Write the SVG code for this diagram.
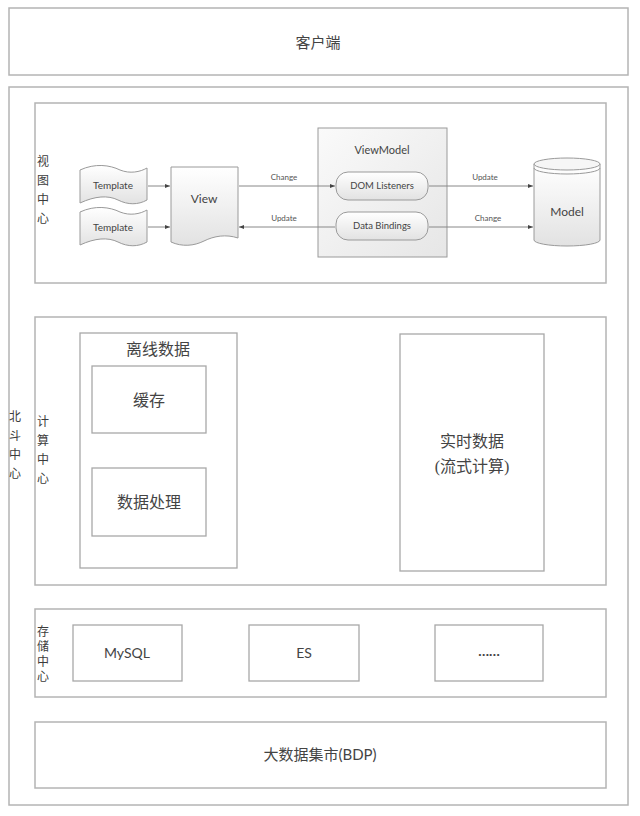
<svg xmlns="http://www.w3.org/2000/svg" width="640" height="816" viewBox="0 0 640 816">
<style>
.box{fill:#fff;stroke:#b4b4b4;stroke-width:1.5}
.ibox{fill:#fff;stroke:#a8a8a8;stroke-width:1.3}
.cn{font-family:"Liberation Serif","Noto Sans CJK SC",serif;fill:#444;text-anchor:middle}
.side{font-family:"Liberation Serif","Noto Sans CJK SC",serif;fill:#3c3c3c;font-size:12px;text-anchor:middle}
.en{font-family:Lato,"Open Sans",sans-serif;fill:#444;text-anchor:middle}
.shape{stroke:#9a9a9a;stroke-width:1}
.conn{stroke:#888;stroke-width:1;fill:none;marker-end:url(#arr)}
.lbl{font-family:Lato,"Open Sans",sans-serif;fill:#555;font-size:8px;text-anchor:middle}
</style>
<defs>
<linearGradient id="g" x1="0" y1="0" x2="0" y2="1">
<stop offset="0" stop-color="#ffffff"/>
<stop offset="1" stop-color="#e2e2e2"/>
</linearGradient>
<linearGradient id="g2" x1="0" y1="0" x2="1" y2="1">
<stop offset="0" stop-color="#fafafa"/>
<stop offset="1" stop-color="#e6e6e6"/>
</linearGradient>
<marker id="arr" viewBox="0 0 10 10" refX="10" refY="5" markerWidth="5" markerHeight="5" orient="auto">
<path d="M0,1 L10,5 L0,9 Z" fill="#444"/>
</marker>
</defs>
<rect width="640" height="816" fill="#fff"/>

<g id="client">
<rect class="box" x="9" y="8" width="619" height="67"/>
<text class="cn" x="318" y="48" font-size="15">客户端</text>
</g>

<g id="beidou">
<rect class="box" x="9" y="87" width="619" height="718"/>
<text class="side" x="15" y="421">北</text>
<text class="side" x="15" y="440">斗</text>
<text class="side" x="15" y="459">中</text>
<text class="side" x="15" y="478">心</text>
</g>

<g id="view-center">
<rect class="box" x="35" y="103" width="571" height="180"/>
<text class="side" x="43" y="166">视</text>
<text class="side" x="43" y="185">图</text>
<text class="side" x="43" y="204">中</text>
<text class="side" x="43" y="223">心</text>
</g>

<g id="template1">
<path class="shape" fill="url(#g)" d="M80,170 C95,163 110,165 120,170 C130,174 140,172 147,168 L147,200 C138,205 128,205 118,200 C108,195 95,196 80,203 Z"/>
<text class="en" x="113" y="189" font-size="10">Template</text>
</g>
<g id="template2">
<path class="shape" fill="url(#g)" d="M80,212 C95,205 110,207 120,212 C130,216 140,214 147,210 L147,242 C138,247 128,247 118,242 C108,237 95,238 80,245 Z"/>
<text class="en" x="113" y="231" font-size="10">Template</text>
</g>
<g id="view">
<path class="shape" fill="url(#g)" d="M171,167 H238 V238 C226,234 214,236 204,241 C194,246 182,247 171,242 Z"/>
<text class="en" x="204" y="203" font-size="12">View</text>
</g>
<g id="viewmodel">
<rect class="shape" fill="url(#g2)" x="318" y="128" width="129" height="129"/>
<text class="en" x="382" y="154" font-size="11">ViewModel</text>
<rect class="shape" fill="url(#g)" x="336" y="172" width="92" height="28" rx="12"/>
<text class="en" x="382" y="189" font-size="9.5">DOM Listeners</text>
<rect class="shape" fill="url(#g)" x="336" y="212" width="92" height="28" rx="12"/>
<text class="en" x="382" y="229" font-size="9.5">Data Bindings</text>
</g>
<g id="model">
<path class="shape" fill="url(#g)" d="M534,164 V240 A33,6 0 0 0 600,240 V164"/>
<ellipse class="shape" fill="#f6f6f6" cx="567" cy="164" rx="33" ry="6"/>
<path class="shape" fill="none" d="M534,168 A33,6 0 0 0 600,168"/>
<text class="en" x="567" y="216" font-size="12">Model</text>
</g>

<g id="connectors">
<line class="conn" x1="148" y1="186" x2="170" y2="186"/>
<line class="conn" x1="148" y1="227" x2="170" y2="227"/>
<line class="conn" x1="239" y1="186" x2="335" y2="186"/>
<line class="conn" x1="335" y1="227" x2="239" y2="227"/>
<line class="conn" x1="429" y1="186" x2="533" y2="186"/>
<line class="conn" x1="429" y1="227" x2="533" y2="227"/>
<text class="lbl" x="284" y="180">Change</text>
<text class="lbl" x="284" y="221">Update</text>
<text class="lbl" x="485" y="180">Update</text>
<text class="lbl" x="488" y="221">Change</text>
</g>

<g id="compute-center">
<rect class="box" x="35" y="317" width="571" height="268"/>
<text class="side" x="43" y="426">计</text>
<text class="side" x="43" y="445">算</text>
<text class="side" x="43" y="464">中</text>
<text class="side" x="43" y="483">心</text>
</g>
<g id="offline">
<rect class="ibox" x="80" y="333" width="157" height="235"/>
<text class="cn" x="158" y="355" font-size="16">离线数据</text>
</g>
<g id="cache">
<rect class="ibox" x="92" y="366" width="114" height="67"/>
<text class="cn" x="149" y="406" font-size="16">缓存</text>
</g>
<g id="processing">
<rect class="ibox" x="92" y="468" width="114" height="68"/>
<text class="cn" x="149" y="508" font-size="16">数据处理</text>
</g>
<g id="realtime">
<rect class="ibox" x="400" y="334" width="144" height="237"/>
<text class="cn" x="472" y="447" font-size="16">实时数据</text>
<text class="cn" x="472" y="472" font-size="16">(流式计算)</text>
</g>

<g id="storage-center">
<rect class="box" x="35" y="609" width="571" height="88"/>
<text class="side" x="43" y="636" font-size="11">存</text>
<text class="side" x="43" y="651" font-size="11">储</text>
<text class="side" x="43" y="666" font-size="11">中</text>
<text class="side" x="43" y="681" font-size="11">心</text>
</g>
<g id="mysql">
<rect class="ibox" x="73" y="625" width="109" height="56"/>
<text class="en" x="127" y="658" font-size="14">MySQL</text>
</g>
<g id="es">
<rect class="ibox" x="249" y="625" width="110" height="56"/>
<text class="en" x="304" y="658" font-size="14">ES</text>
</g>
<g id="more">
<rect class="ibox" x="435" y="625" width="108" height="56"/>
<text class="en" x="489" y="656" font-size="14" font-weight="bold">……</text>
</g>

<g id="bdp">
<rect class="box" x="35" y="722" width="571" height="66"/>
<text class="cn" x="320" y="760" font-size="15">大数据集市<tspan font-family="Lato,'Open Sans',sans-serif">(BDP)</tspan></text>
</g>
</svg>
